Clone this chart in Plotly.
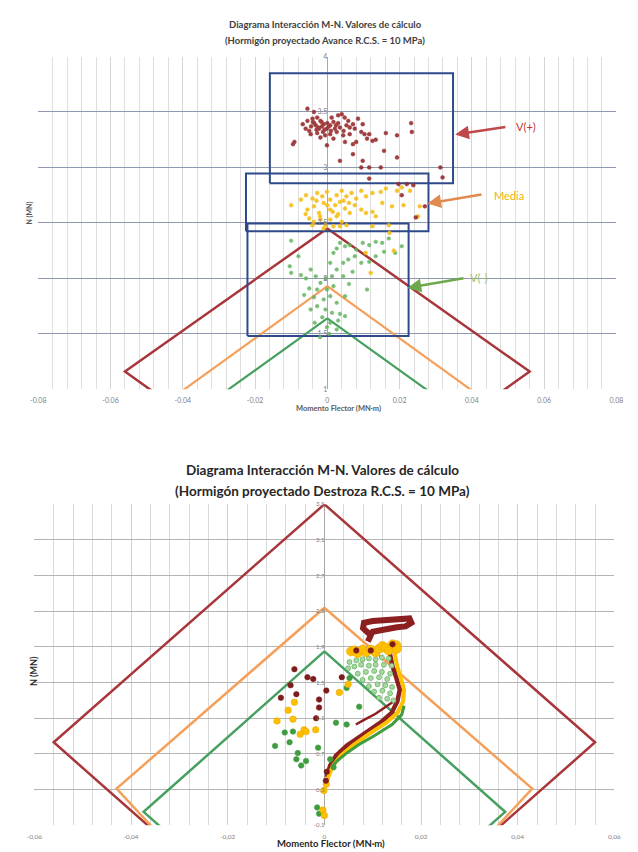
import plotly.graph_objects as go

W, H = 638, 852

# ---------------- Chart 1: Avance ----------------
a_x_ticks = [-0.08, -0.06, -0.04, -0.02, 0.0, 0.02, 0.04, 0.06, 0.08]
a_x_labels = ["-0.08", "-0.06", "-0.04", "-0.02", "0", "0.02", "0.04", "0.06", "0.08"]
a_y_ticks = [1, 1.5, 2, 2.5, 3, 3.5, 4]
a_y_labels = ["1", "1.5", "2", "2.5", "3", "3.5", "4"]

# interaction envelopes (M, N) vertices
a_env_red_m = [0.0, 0.056, 0.0, -0.056, 0.0]
a_env_red_n = [2.45, 1.16, -0.14, 1.16, 2.45]
a_env_org_m = [0.0, 0.05, 0.0, -0.05, 0.0]
a_env_org_n = [1.93, 0.755, -0.42, 0.755, 1.93]
a_env_grn_m = [0.0, 0.04, 0.0, -0.04, 0.0]
a_env_grn_n = [1.64, 0.704, -0.23, 0.704, 1.64]

# range boxes: V(+), Media, V(-)
box_m_lo = [-0.0159, -0.0225, -0.0221]
box_m_hi = [0.0348, 0.0280, 0.0225]
box_n_lo = [2.857, 2.426, 1.480]
box_n_hi = [3.850, 2.946, 2.494]

a_red_m = [-0.0055, -0.0037, -0.0055, -0.0041, -0.0028, -0.0019, -0.0010, -0.0032, -0.0023, -0.0001,
           0.0008, 0.0017, 0.0030, 0.0040, 0.0048, 0.0058, 0.0053, 0.0035, 0.0026, 0.0008,
           -0.0006, -0.0019, -0.0046, -0.0060, 0.0017, 0.0044, 0.0062, 0.0076, 0.0071, 0.0085,
           0.0098, 0.0094, 0.0103, 0.0080, 0.0071, 0.0049, -0.0091, -0.0095, 0.0116, 0.0125,
           0.0134, 0.0162, 0.0193, 0.0232, 0.0234, 0.0157, 0.0193, 0.0035, 0.0071, 0.0098,
           0.0094, 0.0116, 0.0148, -0.0001, 0.0313, 0.0319, 0.0116, -0.0015, 0.0000, -0.0028,
           0.0021, 0.0012, -0.0045, 0.0030, 0.0062, -0.0012, 0.0045, 0.0110, -0.0068, 0.0197,
           0.0220, 0.0238, 0.0206, 0.0270, 0.0245, -0.0036, -0.0025, -0.0008, 0.0004, -0.0050,
           -0.0030, -0.0016, 0.0010, 0.0024, -0.0040]
a_red_n = [3.53, 3.50, 3.42, 3.44, 3.45, 3.42, 3.39, 3.38, 3.35, 3.35,
           3.38, 3.41, 3.47, 3.48, 3.45, 3.42, 3.38, 3.36, 3.32, 3.30,
           3.29, 3.27, 3.30, 3.35, 3.26, 3.29, 3.30, 3.35, 3.39, 3.44,
           3.39, 3.32, 3.30, 3.23, 3.21, 3.23, 3.23, 3.21, 3.30, 3.24,
           3.25, 3.31, 3.29, 3.40, 3.32, 3.15, 3.09, 3.06, 3.12, 3.06,
           3.00, 3.00, 3.00, 3.20, 3.00, 2.91, 2.90, 3.37, 3.40, 3.31,
           3.35, 3.45, 3.37, 3.40, 3.36, 3.32, 3.33, 3.26, 3.39, 2.85,
           2.85, 2.84, 2.75, 2.65, 2.55, 3.40, 3.36, 3.34, 3.37, 3.33,
           3.34, 3.41, 3.33, 3.38, 3.41]

a_yel_m = [-0.0100, -0.0073, -0.0059, -0.0041, -0.0028, -0.0014, -0.0001, 0.0008, 0.0026, 0.0040,
           0.0053, 0.0067, 0.0080, 0.0094, 0.0107, 0.0125, 0.0148, 0.0162, 0.0193, 0.0206,
           0.0229, -0.0055, -0.0037, -0.0023, -0.0010, 0.0008, 0.0022, 0.0035, 0.0049, 0.0062,
           0.0076, 0.0094, 0.0107, 0.0125, 0.0134, 0.0152, 0.0179, 0.0211, 0.0256, 0.0251,
           -0.0050, -0.0037, -0.0019, -0.0005, 0.0008, 0.0026, 0.0040, 0.0017, -0.0010, -0.0041,
           0.0035, 0.0053, 0.0170, 0.0125, -0.0030, 0.0000, 0.0015, -0.0020, 0.0030, 0.0045,
           -0.0060, 0.0060, 0.0172, 0.0106, 0.0184, 0.0120]
a_yel_n = [2.66, 2.71, 2.75, 2.72, 2.77, 2.74, 2.78, 2.71, 2.75, 2.79,
           2.74, 2.77, 2.72, 2.79, 2.74, 2.77, 2.78, 2.81, 2.79, 2.82,
           2.79, 2.62, 2.65, 2.59, 2.68, 2.62, 2.66, 2.69, 2.63, 2.59,
           2.66, 2.62, 2.59, 2.60, 2.56, 2.68, 2.65, 2.66, 2.65, 2.56,
           2.54, 2.51, 2.53, 2.48, 2.53, 2.56, 2.51, 2.47, 2.45, 2.48,
           2.47, 2.48, 2.48, 2.47, 2.70, 2.66, 2.60, 2.56, 2.58, 2.70,
           2.58, 2.68, 2.41, 2.23, 2.25, 2.05]

a_grn_m = [-0.0100, -0.0104, -0.0100, -0.0073, -0.0059, -0.0046, -0.0032, -0.0019, -0.0005, 0.0008,
           0.0017, 0.0026, 0.0035, 0.0049, 0.0062, 0.0080, 0.0098, 0.0116, 0.0134, 0.0152,
           0.0170, 0.0206, 0.0058, 0.0076, 0.0094, 0.0116, 0.0134, 0.0157, 0.0188, 0.0044,
           0.0026, 0.0013, 0.0044, 0.0017, -0.0001, -0.0028, -0.0050, -0.0064, -0.0037, -0.0010,
           0.0008, 0.0026, 0.0049, -0.0028, -0.0046, -0.0005, 0.0013, 0.0035, 0.0049, -0.0014,
           0.0008, 0.0026, -0.0001, 0.0005, -0.0020, 0.0030, -0.0035, 0.0060, 0.0070, -0.0080,
           0.0110]
a_grn_n = [2.34, 2.11, 2.05, 2.03, 2.00, 2.08, 2.02, 1.96, 2.00, 2.14,
           2.23, 2.27, 2.32, 2.29, 2.30, 2.26, 2.32, 2.30, 2.33, 2.32,
           2.36, 2.29, 2.17, 2.20, 2.14, 2.15, 2.20, 2.24, 2.23, 2.14,
           2.08, 2.02, 2.02, 1.93, 1.90, 1.90, 1.91, 1.85, 1.83, 1.81,
           1.84, 1.78, 1.84, 1.75, 1.72, 1.72, 1.69, 1.68, 1.66, 1.65,
           1.60, 1.54, 1.56, 1.50, 1.47, 1.62, 1.60, 1.95, 2.06, 2.20,
           1.90]

# arrow callouts: tail (m, n), head (m, n), text
call_text = ["V(+)", "Media", "V(-)"]
call_tail_m = [0.0497, 0.0431, 0.0381]
call_tail_n = [3.367, 2.758, 2.004]
call_head_m = [0.0354, 0.0277, 0.0222]
call_head_n = [3.296, 2.675, 1.914]
call_text_m = [0.0516, 0.0456, 0.0390]
call_text_n = [3.37, 2.75, 2.01]

# ---------------- Chart 2: Destroza ----------------
d_x_ticks = [-0.06, -0.04, -0.02, 0.0, 0.02, 0.04, 0.06]
d_x_labels = ["-0,06", "-0,04", "-0,02", "0", "0,02", "0,04", "0,06"]
d_y_ticks = [-0.1, 0.3, 0.7, 1.1, 1.5, 1.9, 2.3, 2.7, 3.1, 3.5]
d_y_labels = ["-0,1", "0,3", "0,7", "1,1", "1,5", "1,9", "2,3", "2,7", "3,1", "3,5"]

d_env_red_m = [0.0, 0.056, 0.0, -0.056, 0.0]
d_env_red_n = [3.5, 0.83, -1.85, 0.83, 3.5]
d_env_org_m = [0.0, 0.043, 0.0, -0.043, 0.0]
d_env_org_n = [2.34, 0.31, -2.2, 0.31, 2.34]
d_env_grn_m = [0.0, 0.0374, 0.0, -0.0374, 0.0]
d_env_grn_n = [1.85, 0.05, -1.75, 0.05, 1.85]

d_red_flag_m = [0.0090, 0.0096, 0.0080, 0.0082, 0.0100, 0.0120, 0.0140, 0.0160, 0.0176, 0.0180,
                0.0168, 0.0150, 0.0130, 0.0110, 0.0100, 0.0095]
d_red_flag_n = [1.96, 2.03, 2.11, 2.17, 2.19, 2.20, 2.21, 2.22, 2.22, 2.17,
                2.13, 2.12, 2.10, 2.09, 2.07, 2.03]
d_red_trail_m = [0.0132, 0.0136, 0.0141, 0.0149, 0.0156, 0.0151, 0.0139, 0.0116, 0.0079, 0.0046,
                 0.0024, 0.0012, 0.0005]
d_red_trail_n = [1.92, 1.79, 1.68, 1.55, 1.42, 1.29, 1.16, 1.05, 0.92, 0.79,
                 0.68, 0.57, 0.44]
d_red_inner_m = [0.0146, 0.0126, 0.0106, 0.0085, 0.0065]
d_red_inner_n = [1.30, 1.22, 1.15, 1.09, 1.03]
d_red_m = [-0.0062, -0.0035, -0.0023, -0.0070, -0.0058, -0.0090, -0.0011, -0.0011, -0.0017, 0.0036,
           0.0004, 0.0066, 0.0096, 0.0141, 0.0005, 0.0003]
d_red_n = [1.65, 1.56, 1.54, 1.47, 1.37, 1.33, 1.31, 1.22, 1.10, 1.56,
           1.41, 1.86, 1.86, 1.93, 0.50, 0.40]

d_yel_row_m = [0.0055, 0.0062, 0.0069, 0.0079, 0.0086, 0.0096, 0.0106, 0.0113, 0.0120, 0.0126,
               0.0133, 0.0141, 0.0149, 0.0150]
d_yel_row_n = [1.85, 1.86, 1.83, 1.87, 1.84, 1.87, 1.84, 1.88, 1.91, 1.89,
               1.86, 1.93, 1.92, 1.88]
d_yel_trail_m = [0.0143, 0.0150, 0.0158, 0.0165, 0.0163, 0.0151, 0.0128, 0.0091, 0.0058, 0.0034,
                 0.0018, 0.0008, 0.0003]
d_yel_trail_n = [1.90, 1.70, 1.55, 1.42, 1.29, 1.16, 1.05, 0.92, 0.79, 0.68,
                 0.57, 0.44, 0.33]
d_yel_m = [0.0031, 0.0049, -0.0062, -0.0075, -0.0098, -0.0065, -0.0042, -0.0038, -0.0018, -0.0050,
           -0.0001, -0.0003, 0.0000, 0.0004]
d_yel_n = [1.39, 1.48, 1.28, 1.19, 1.07, 1.09, 0.97, 0.95, 0.97, 0.92,
           0.29, 0.07, 0.01, 0.36]

d_lgr_m = [0.0052, 0.0066, 0.0079, 0.0092, 0.0106, 0.0119, 0.0133, 0.0049, 0.0062, 0.0076,
           0.0092, 0.0106, 0.0123, 0.0139, 0.0069, 0.0086, 0.0103, 0.0119, 0.0136, 0.0079,
           0.0096, 0.0113, 0.0130, 0.0092, 0.0110, 0.0126, 0.0140, 0.0103, 0.0120, 0.0136,
           0.0113, 0.0130, 0.0143]
d_lgr_n = [1.73, 1.75, 1.76, 1.77, 1.76, 1.78, 1.77, 1.66, 1.68, 1.70,
           1.69, 1.70, 1.70, 1.69, 1.60, 1.62, 1.63, 1.62, 1.60, 1.53,
           1.55, 1.56, 1.54, 1.46, 1.48, 1.47, 1.45, 1.40, 1.41, 1.38,
           1.33, 1.32, 1.30]
d_grn_trail_m = [0.0165, 0.0160, 0.0140, 0.0105, 0.0070, 0.0044, 0.0026, 0.0016]
d_grn_trail_n = [1.24, 1.14, 1.03, 0.91, 0.80, 0.70, 0.62, 0.56]
d_grn_m = [-0.0082, -0.0065, -0.0072, -0.0102, -0.0055, -0.0058, -0.0048, -0.0038, -0.0013, 0.0024,
           0.0046, 0.0072, -0.0015, -0.0011, 0.0019, 0.0012, 0.0052, 0.0046]
d_grn_n = [0.94, 0.95, 0.83, 0.79, 0.71, 0.64, 0.57, 0.62, 0.77, 1.05,
           1.03, 1.23, 0.10, 0.03, 0.55, 0.64, 1.55, 1.44]

# ---------------- styling ----------------
FONT = "Lato"
C_RED, C_ORG, C_GRN = "#a8363a", "#f5a05a", "#47a060"
C_BOX = "#2f4a8a"
TICK_FONT = dict(family=FONT, size=7, color="#808080")

fig = go.Figure()


def line(xs, ys, color, width, xa, ya):
    fig.add_trace(go.Scatter(x=xs, y=ys, mode="lines", xaxis=xa, yaxis=ya,
                             line=dict(color=color, width=width), hoverinfo="skip"))


def dots(xs, ys, color, size, xa, ya, edge=None, opacity=1.0):
    fig.add_trace(go.Scatter(x=xs, y=ys, mode="markers", xaxis=xa, yaxis=ya, opacity=opacity,
                             marker=dict(color=color, size=size,
                                         line=dict(color=edge or color, width=0.6))))


# chart 1
line(a_env_red_m, a_env_red_n, C_RED, 2.5, "x", "y")
line(a_env_org_m, a_env_org_n, C_ORG, 2.2, "x", "y")
line(a_env_grn_m, a_env_grn_n, C_GRN, 2.2, "x", "y")
for lo_m, hi_m, lo_n, hi_n in zip(box_m_lo, box_m_hi, box_n_lo, box_n_hi):
    line([lo_m, hi_m, hi_m, lo_m, lo_m], [lo_n, lo_n, hi_n, hi_n, lo_n], C_BOX, 2, "x", "y")
dots(a_grn_m, a_grn_n, "#62b35e", 3.6, "x", "y", opacity=0.85)
dots(a_yel_m, a_yel_n, "#f6bd16", 3.8, "x", "y", opacity=0.9)
dots(a_red_m, a_red_n, "#962a2c", 3.8, "x", "y", opacity=0.9)

# chart 2
line(d_env_red_m, d_env_red_n, C_RED, 2.5, "x2", "y2")
line(d_env_org_m, d_env_org_n, C_ORG, 2.5, "x2", "y2")
line(d_env_grn_m, d_env_grn_n, C_GRN, 2.5, "x2", "y2")
line(d_red_flag_m, d_red_flag_n, "#8c1f1f", 6, "x2", "y2")
line(d_red_trail_m, d_red_trail_n, "#8c1f1f", 4.5, "x2", "y2")
line(d_red_inner_m, d_red_inner_n, "#8c1f1f", 2.5, "x2", "y2")
line(d_yel_trail_m, d_yel_trail_n, "#ffc000", 4, "x2", "y2")
line(d_yel_row_m, d_yel_row_n, "#ffc000", 6, "x2", "y2")
line(d_grn_trail_m, d_grn_trail_n, "#3f9c3f", 3, "x2", "y2")
dots(d_lgr_m, d_lgr_n, "#a8d8a0", 5, "x2", "y2", edge="#4aa64a")
dots(d_grn_m, d_grn_n, "#3f9c3f", 5.5, "x2", "y2")
dots(d_yel_m, d_yel_n, "#ffc000", 6.5, "x2", "y2", edge="#e8a800")
dots(d_yel_row_m, d_yel_row_n, "#ffc000", 9, "x2", "y2", edge="#e8a800")
dots(d_red_m, d_red_n, "#7e1c1c", 5.5, "x2", "y2")

# titles and axis captions
ann = []
def text(s, x, y, size, color="#404040", bold=True, angle=0):
    ann.append(dict(text=f"<b>{s}</b>" if bold else s, x=x / W, y=1 - y / H,
                    xref="paper", yref="paper", showarrow=False, textangle=angle,
                    font=dict(family=FONT, size=size, color=color),
                    xanchor="center", yanchor="middle"))

text("Diagrama Interacción M-N. Valores de cálculo", 325, 20, 9.5)
text("(Hormigón proyectado Avance R.C.S. = 10 MPa)", 325, 36, 9.5)
text("Momento Flector (MN·m)", 338, 407, 7.5, color="#595959")
text("N (MN)", 22, 210, 7, color="#595959", angle=-90)

text("Diagrama Interacción M-N. Valores de cálculo", 322, 469, 13.5, color="#262626")
text("(Hormigón proyectado Destroza R.C.S. = 10 MPa)", 322, 491, 13.5, color="#262626")
text("Momento Flector (MN·m)", 331, 846, 9.5, color="#262626")
text("N (MN)", 26, 672, 9, color="#262626", angle=-90)

label_colors = ["#c0392b", "#f2b400", "#9dc26a"]
arrow_colors = ["#c0484a", "#e08a50", "#6ea84c"]
for t, tm, tn, hm, hn, lm, ln, lc, ac in zip(call_text, call_tail_m, call_tail_n, call_head_m,
                                             call_head_n, call_text_m, call_text_n,
                                             label_colors, arrow_colors):
    ann.append(dict(x=hm, y=hn, ax=tm, ay=tn, xref="x", yref="y", axref="x", ayref="y",
                    text="", showarrow=True, arrowhead=2, arrowsize=1.1, arrowwidth=2.5,
                    arrowcolor=ac))
    ann.append(dict(x=lm, y=ln, xref="x", yref="y", text=t, showarrow=False,
                    xanchor="left", yanchor="middle",
                    font=dict(family=FONT, size=11, color=lc)))

x1_dom = [31 / W, 623 / W]
x2_dom = [27 / W, 621 / W]

fig.update_layout(
    width=W, height=H, margin=dict(l=0, r=0, t=0, b=0),
    paper_bgcolor="white", plot_bgcolor="white", showlegend=False,
    font=dict(family=FONT),
    annotations=ann,
    xaxis=dict(domain=x1_dom, range=[-0.08, 0.08], anchor="y",
               tickmode="array", tickvals=a_x_ticks, ticktext=a_x_labels,
               tickfont=TICK_FONT, ticks="", ticklabelstandoff=6,
               showgrid=True, gridcolor="#d4d4d4", gridwidth=1,
               minor=dict(tickmode="linear", tick0=0, dtick=0.004, showgrid=True,
                          gridcolor="#dedede", gridwidth=1),
               zeroline=True, zerolinecolor="#a8a8a8", zerolinewidth=1, showline=False),
    yaxis=dict(domain=[1 - 388 / H, 1 - 52 / H], range=[1, 4], anchor="free",
               position=327 / W, tickmode="array", tickvals=a_y_ticks, ticktext=a_y_labels,
               tickfont=TICK_FONT, ticks="", showgrid=True, gridcolor="#8f98b0",
               gridwidth=1.2, zeroline=False, showline=False),
    xaxis2=dict(domain=x2_dom, range=[-0.06, 0.06], anchor="y2",
                tickmode="array", tickvals=d_x_ticks, ticktext=d_x_labels,
                tickfont=dict(family=FONT, size=6.5, color="#808080"), ticks="",
                ticklabelstandoff=6,
                showgrid=True, gridcolor="#d0d0d0", gridwidth=1,
                minor=dict(tickmode="linear", tick0=0, dtick=0.004, showgrid=True,
                           gridcolor="#d9d9d9", gridwidth=1),
                zeroline=True, zerolinecolor="#a8a8a8", zerolinewidth=1, showline=False),
    yaxis2=dict(domain=[1 - 828 / H, 1 - 504 / H], range=[-0.1, 3.5], anchor="free",
                position=324 / W, tickmode="array", tickvals=d_y_ticks, ticktext=d_y_labels,
                tickfont=dict(family=FONT, size=6, color="#808080"), ticks="",
                showgrid=True, gridcolor="#b4b4b4", gridwidth=1.2,
                zeroline=False, showline=False),
)

fig.write_html("out.html")
